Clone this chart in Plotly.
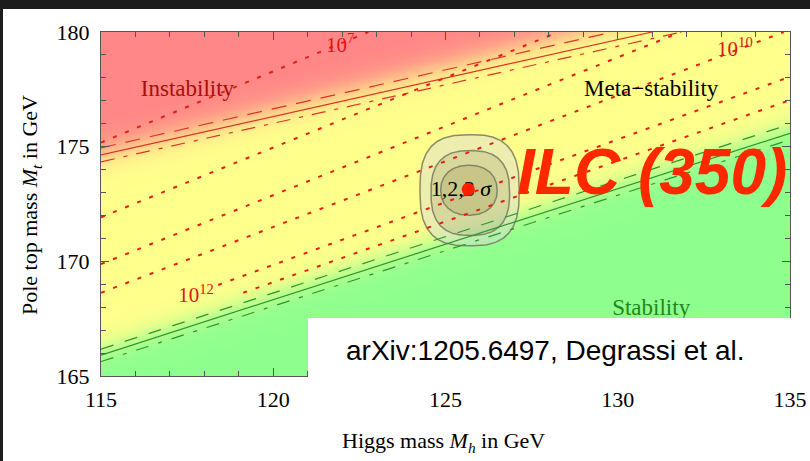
import numpy as np
import plotly.graph_objects as go

# ---------------- data ----------------
mh_ticks = [115, 120, 125, 130, 135]
mt_ticks = [165, 170, 175, 180]

# instability boundary (alpha_s central, +/-)
instab_solid_mh = [115.0, 131.0]
instab_solid_mt = [174.64, 180.0]
instab_upper_mh = [115.0, 129.85]
instab_upper_mt = [174.95, 180.0]
instab_lower_mh = [115.0, 131.85]
instab_lower_mt = [174.34, 180.0]

# stability boundary
stab_mh = [115.0, 135.0]
stab_solid_mt = [165.91, 175.58]
stab_upper_mt = [166.17, 175.98]
stab_lower_mt = [165.63, 175.30]

# colour fade centre lines of the shaded regions
red_fade_mh = [115.0, 128.8]
red_fade_mt = [174.72, 180.0]
green_fade_mh = [115.0, 135.0]
green_fade_mt = [166.16, 175.83]

# instability-scale contours (dotted)
lam_mh_start = [115.0, 115.0, 115.0, 115.0, 118.40, 119.13]
lam_mt_start = [175.18, 171.92, 169.88, 168.63, 168.97, 168.63]
lam_mh_end = [122.76, 128.28, 131.84, 134.82, 135.0, 135.0]
lam_mt_end = [180.0, 180.0, 180.0, 180.0, 178.05, 177.03]

lam_labels = ["10<sup>7</sup>", "10<sup>10</sup>", "10<sup>12</sup>"]
lam_label_mh = [121.94, 133.40, 117.76]
lam_label_mt = [179.35, 179.17, 168.44]

# measurement
meas_mh = 125.66
meas_mt = 173.14
sigma_cx = [125.70, 125.72, 125.68]     # 3, 2, 1 sigma
sigma_cy = [173.10, 172.98, 173.10]
sigma_a = [1.44, 1.14, 0.82]
sigma_b = [2.42, 1.85, 1.09]
sigma_n = [2.8, 2.6, 2.2]

region_labels = ["Instability", "Meta\u2212stability"]
region_label_mh = [117.51, 130.97]
region_label_mt = [177.47, 177.47]
region_label_colors = ["rgb(165,15,15)", "black"]

SERIF = "Liberation Serif"
SANS = "Liberation Sans"

fig = go.Figure()

# ---------------- background shading ----------------
gx = np.linspace(115, 135, 201)
gy = np.linspace(165, 180, 151)
X, Y = np.meshgrid(gx, gy)


def line_at(xs, ys, x):
    s = (ys[1] - ys[0]) / (xs[1] - xs[0])
    return ys[0] + (x - xs[0]) * s


rc = line_at(red_fade_mh, red_fade_mt, X)
gc = line_at(green_fade_mh, green_fade_mt, X)
f_red = 1.0 / (1.0 + np.exp(-(rc - Y) / 0.33))
f_green = 1.0 / (1.0 + np.exp(-(gc - Y) / 0.30))
Z = 0.5 * f_red + 0.5 * f_green

fig.add_trace(go.Heatmap(
    x=gx, y=gy, z=Z, zmin=0, zmax=1, zsmooth="best", showscale=False,
    hoverinfo="skip",
    colorscale=[[0, "rgb(255,135,135)"], [0.5, "rgb(255,255,140)"], [1, "rgb(142,255,142)"]],
))

# ---------------- sigma contours ----------------
theta = np.linspace(0, 2 * np.pi, 240)
fills = ["rgba(215,215,215,0.45)", "rgba(170,170,120,0.30)", "rgba(160,155,90,0.30)"]
for cx, cy, a, b, n, fc in zip(sigma_cx, sigma_cy, sigma_a, sigma_b, sigma_n, fills):
    c, s = np.cos(theta), np.sin(theta)
    xs = cx + a * np.sign(c) * np.abs(c) ** (2.0 / n)
    ys = cy + b * np.sign(s) * np.abs(s) ** (2.0 / n)
    fig.add_trace(go.Scatter(x=xs, y=ys, mode="lines", fill="toself", fillcolor=fc,
                             line=dict(color="rgba(120,120,95,0.85)", width=1.5),
                             hoverinfo="skip"))

# ---------------- boundary lines ----------------
RED_L = "rgb(215,55,40)"
GREEN_L = "rgb(45,150,45)"


def add_line(xs, ys, color, dash, width=1.2):
    fig.add_trace(go.Scatter(x=xs, y=ys, mode="lines", hoverinfo="skip",
                             line=dict(color=color, width=width, dash=dash)))


add_line(instab_upper_mh, instab_upper_mt, RED_L, "15px,10px")
add_line(instab_solid_mh, instab_solid_mt, RED_L, "solid")
add_line(instab_lower_mh, instab_lower_mt, RED_L, "14px,9px,4px,9px")
add_line(stab_mh, stab_upper_mt, GREEN_L, "13px,12px")
add_line(stab_mh, stab_solid_mt, GREEN_L, "solid")
add_line(stab_mh, stab_lower_mt, GREEN_L, "13px,10px,4px,10px")

# ---------------- lambda contours ----------------
for x0, y0, x1, y1 in zip(lam_mh_start, lam_mt_start, lam_mh_end, lam_mt_end):
    add_line([x0, x1], [y0, y1], "rgb(228,30,20)", "4px,9px", width=2)

# ---------------- text on plot (below white box) ----------------
fig.add_trace(go.Scatter(x=[130.97], y=[167.92], mode="text", text=["Stability"],
                         textfont=dict(family=SERIF, size=23, color="rgb(30,135,30)"),
                         hoverinfo="skip"))
fig.add_trace(go.Scatter(x=[125.45], y=[173.10], mode="text", text=["1,2,3 <i>\u03c3</i>"],
                         textfont=dict(family=SERIF, size=22, color="black"),
                         hoverinfo="skip"))
fig.add_trace(go.Scatter(x=[meas_mh], y=[meas_mt], mode="markers",
                         marker=dict(size=13, color="rgb(255,30,0)"), hoverinfo="skip"))
fig.add_trace(go.Scatter(x=region_label_mh, y=region_label_mt, mode="text", text=region_labels,
                         textfont=dict(family=SERIF, size=23, color=region_label_colors),
                         hoverinfo="skip"))
fig.add_trace(go.Scatter(x=lam_label_mh, y=lam_label_mt, mode="text", text=lam_labels,
                         textfont=dict(family=SERIF, size=21, color="rgb(228,20,20)"),
                         hoverinfo="skip"))

# ---------------- layout ----------------
L, R, T, B = 101, 20, 32, 85
W, H = 810, 461
pw, ph = W - L - R, H - T - B


def px_x(p):
    return (p - L) / pw


def px_y(p):
    return (H - B - p) / ph


shapes = [
    # dark strip at the top and left of the slide
    dict(type="rect", xref="paper", yref="paper", x0=px_x(0), x1=px_x(W), y0=px_y(9), y1=px_y(0),
         fillcolor="rgb(28,28,28)", line=dict(width=0), layer="above"),
    dict(type="rect", xref="paper", yref="paper", x0=px_x(0), x1=px_x(3), y0=px_y(H), y1=px_y(0),
         fillcolor="rgb(28,28,28)", line=dict(width=0), layer="above"),
    # white citation box
    dict(type="rect", xref="paper", yref="paper", x0=px_x(308), x1=px_x(793), y0=px_y(380), y1=px_y(318),
         fillcolor="white", line=dict(width=0), layer="above"),
]

annotations = [
    dict(text="arXiv:1205.6497, Degrassi et al.", xref="paper", yref="paper",
         x=px_x(545), y=px_y(350), showarrow=False, xanchor="center", yanchor="middle",
         font=dict(family=SANS, size=28, color="black")),
    dict(text="<b><i>ILC (350)</i></b>", xref="paper", yref="paper",
         x=px_x(652), y=px_y(172), showarrow=False, xanchor="center", yanchor="middle",
         font=dict(family=SANS, size=64, color="rgb(255,40,0)")),
    dict(text="Higgs mass <i>M</i><sub><i>h</i></sub> in GeV", xref="paper", yref="paper",
         x=px_x(443.5), y=px_y(442), showarrow=False, xanchor="center", yanchor="middle",
         font=dict(family=SERIF, size=22, color="black")),
    dict(text="Pole top mass <i>M</i><sub><i>t</i></sub> in GeV", xref="paper", yref="paper",
         x=px_x(31), y=px_y(205), showarrow=False, xanchor="center", yanchor="middle",
         textangle=-90, font=dict(family=SERIF, size=22, color="black")),
]

axis_common = dict(
    showgrid=False, zeroline=False, showline=True, linecolor="#555", linewidth=1.2,
    mirror="allticks", ticks="inside", ticklen=8, tickwidth=1, tickcolor="#555",
    tickfont=dict(family=SERIF, size=22, color="black"), automargin=False,
)

fig.update_layout(
    template="none",
    width=W, height=H, margin=dict(l=L, r=R, t=T, b=B, pad=0, autoexpand=False),
    paper_bgcolor="white", plot_bgcolor="white", showlegend=False,
    shapes=shapes, annotations=annotations,
    xaxis=dict(range=[115, 135], tickvals=mh_ticks, ticklabelstandoff=3,
               minor=dict(dtick=1, ticks="inside", ticklen=5, tickcolor="#555"),
               **axis_common),
    yaxis=dict(range=[165, 180], tickvals=mt_ticks, ticklabelstandoff=6,
               minor=dict(dtick=1, ticks="inside", ticklen=5, tickcolor="#555"),
               **axis_common),
)

fig.write_html("out.html", config={"displayModeBar": False},
               post_script="document.body.style.margin='0px';document.body.style.overflow='hidden';")
